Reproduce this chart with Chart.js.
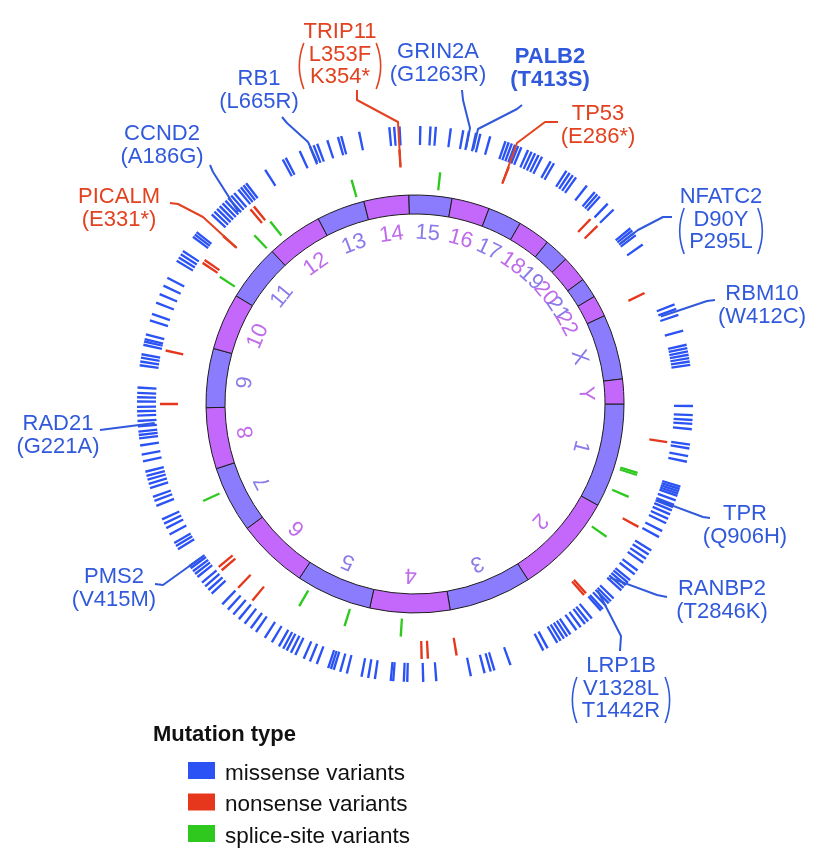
<!DOCTYPE html>
<html>
<head>
<meta charset="utf-8">
<script src="https://cdn.jsdelivr.net/npm/chart.js@4.4.1/dist/chart.umd.min.js"></script>
<style>
	html, body { margin: 0; padding: 0; background: #fff; }
	#wrap { width: 822px; height: 864px; }
</style>
</head>
<body>
<div id="wrap"><canvas id="circos" width="822" height="864"></canvas></div>
<script>
// chromosome sizes in Mb (hg19), drawn clockwise from 3 o'clock
const chromosomes = ["1", "2", "3", "4", "5", "6", "7", "8", "9", "10", "11", "12", "13", "14", "15", "16", "17", "18", "19", "20", "21", "22", "X", "Y"];
const chromSizes = [249.25, 243.2, 198.0, 191.2, 180.9, 171.1, 159.1, 146.4, 141.2, 135.5, 135.0, 133.9, 115.2, 107.3, 102.5, 90.4, 81.2, 78.1, 59.1, 63.0, 48.1, 51.3, 155.3, 59.4];

// mutation positions: genome scaled to 360 degrees, clockwise from the start of chr1
const missenseDeg = [
	0.4, 2.3, 3.3, 4.1, 5.2, 8.4, 9.2, 10.8, 12.0, 17.3, 17.8, 18.3, 18.8, 19.3, 20.3, 21.3, 21.8, 22.5, 23.4, 24.4,
	25.4, 27.2, 28.6, 31.8, 32.8, 33.8, 34.8, 36.8, 37.8, 39.3, 40.0, 40.7, 41.4, 42.1, 44.4, 45.2, 45.8, 46.6, 47.5, 48.0,
	50.5, 51.5, 52.3, 53.4, 54.5, 56.0, 56.8, 57.6, 58.4, 59.2, 61.5, 62.5, 69.9, 73.4, 74.2, 75.5, 78.4, 85.6, 88.3, 91.6,
	92.3, 94.5, 95.0, 98.3, 99.7, 101.1, 104.2, 105.6, 107.0, 107.6, 108.2, 110.7, 112.2, 113.6, 115.5, 116.5, 117.5, 118.3, 119.3, 121.0,
	122.7, 124.9, 126.2, 127.8, 129.3, 130.8, 132.3, 133.9, 137.0, 138.0, 139.0, 140.0, 141.5, 142.3, 143.0, 143.8, 144.3, 148.5, 149.3, 150.0,
	152.0, 153.5, 154.5, 155.5, 158.5, 159.6, 160.5, 162.4, 163.3, 164.2, 165.0, 165.9, 168.1, 169.5, 171.4, 172.9, 173.6, 174.3, 175.4, 176.5,
	177.6, 178.5, 179.4, 180.5, 181.4, 182.3, 183.4, 188.0, 188.8, 189.6, 190.3, 192.3, 193.0, 193.5, 194.5, 197.5, 198.9, 201.4, 203.3, 205.2,
	207.0, 211.0, 211.8, 212.6, 213.4, 217.0, 217.6, 218.2, 223.0, 223.8, 224.6, 225.4, 226.2, 227.0, 227.8, 228.6, 229.4, 230.5, 231.2, 231.9,
	232.6, 237.4, 241.6, 242.3, 245.5, 247.8, 248.6, 249.4, 251.6, 253.9, 254.6, 258.4, 264.7, 265.7, 266.8, 271.1, 273.2, 274.3, 277.4, 280.0,
	281.2, 282.7, 283.6, 285.7, 289.0, 289.7, 290.4, 291.1, 291.8, 292.5, 294.0, 294.8, 295.6, 296.4, 297.2, 299.2, 300.0, 303.0, 303.8, 304.6,
	305.4, 308.2, 310.3, 311.0, 311.7, 313.9, 315.6, 320.8, 321.4, 322.0, 322.6, 325.0, 339.0, 340.0, 341.3, 344.7, 347.7, 348.4, 349.1, 349.8,
	350.5, 351.2, 351.9,
];
const nonsenseDeg = [8.6, 28.8, 47.9, 48.5, 80.6, 87.1, 88.5, 129.6, 133.9, 139.3, 140.3, 180.0, 192.1, 213.6, 214.4, 221.2, 229.8, 230.8, 266.5, 291.6, 313.5, 315.7, 334.2];
const spliceDeg = [17.2, 17.7, 23.5, 34.7, 93.5, 107.6, 119.8, 155.4, 213.1, 226.4, 231.6, 254.2, 276.2];

// annotated genes
const genes = ["TPR", "RANBP2", "LRP1B", "PMS2", "RAD21", "PICALM", "CCND2", "RB1", "TRIP11", "GRIN2A", "PALB2", "TP53", "NFATC2", "RBM10"];
const geneDeg = [21.6, 41.7, 45.6, 144.3, 175.8, 221.2, 227.4, 248.0, 266.5, 281.3, 282.9, 291.6, 322.0, 340.4];
const geneType = ["missense", "missense", "missense", "missense", "missense", "nonsense", "missense", "missense", "nonsense", "missense", "missense", "nonsense", "missense", "missense"];
const geneVariants = [["Q906H"], ["T2846K"], ["V1328L", "T1442R"], ["V415M"], ["G221A"], ["E331*"], ["A186G"], ["L665R"], ["L353F", "K354*"], ["G1263R"], ["T413S"], ["E286*"], ["D90Y", "P295L"], ["W412C"]];
const highlighted = ["PALB2"];

const legendTitle = "Mutation type";
const legendItems = ["missense variants", "nonsense variants", "splice-site variants"];

// ---- styles / layout ----
const BLUE = "#2b52f4";
const RED = "#e6361b";
const GREEN = "#2fc81f";
const LABEL_BLUE = "#3159dc";
const LABEL_RED = "#e2421f";
const CHR_FILL = ["#8b7cfd", "#c467fb"];
const CHR_TEXT = ["#8a7bea", "#bf6bea"];
const GAP = "rgba(0,0,0,0)";
const FONT = '"Liberation Sans", Arial, sans-serif';

const geneLayout = {
	TPR: { x: 745, y: 520, path: [[710, 518], [703, 517]] },
	RANBP2: { x: 722, y: 595, path: [[667, 597], [657, 595]] },
	LRP1B: { x: 621, y: 672, path: [[620, 651], [621, 636]] },
	PMS2: { x: 114, y: 583, path: [[155, 584], [163, 585]] },
	RAD21: { x: 58, y: 430, path: [[100, 430]] },
	PICALM: { x: 119, y: 203, path: [[170, 203], [178, 204], [203, 217]] },
	CCND2: { x: 162, y: 140, path: [[210, 165], [213, 172]] },
	RB1: { x: 259, y: 85, path: [[282, 117], [287, 123], [308, 142]] },
	TRIP11: { x: 340, y: 38, path: [[357, 90], [357, 100], [398, 122]] },
	GRIN2A: { x: 438, y: 58, path: [[462, 90], [463, 100], [470, 128]] },
	PALB2: { x: 550, y: 63, path: [[522, 105], [517, 109], [478, 129]] },
	TP53: { x: 598, y: 120, path: [[558, 122], [545, 122], [517, 143]] },
	NFATC2: { x: 721, y: 203, path: [[672, 217], [663, 217], [638, 230]] },
	RBM10: { x: 762, y: 300, path: [[715, 300], [707, 301]] },
};

function buildTrack(positions, width, color) {
	const sorted = positions.slice().sort((a, b) => a - b);
	const data = [];
	const colors = [];
	let cur = 0;
	sorted.forEach((p) => {
		const s = Math.max(p - width / 2, cur);
		const e = Math.min(p + width / 2, 360);
		if (e <= s) return;
		if (s > cur) {
			data.push(s - cur);
			colors.push(GAP);
		}
		data.push(e - s);
		colors.push(color);
		cur = e;
	});
	if (cur < 360) {
		data.push(360 - cur);
		colors.push(GAP);
	}
	return { data, backgroundColor: colors };
}

const spacer = (w) => ({ data: [1], backgroundColor: [GAP], borderWidth: 0, weight: w });

const overlay = {
	id: "overlay",
	afterDatasetsDraw(chart) {
		const ctx = chart.ctx;
		const ring = chart.getDatasetMeta(6).data;
		const cx = ring[0].x;
		const cy = ring[0].y;
		ctx.save();

		// chromosome names inside the ring
		ctx.font = "22px " + FONT;
		ctx.textAlign = "center";
		ctx.textBaseline = "middle";
		ring.forEach((arc, i) => {
			const a = (arc.startAngle + arc.endAngle) / 2;
			ctx.save();
			ctx.translate(cx + 171 * Math.cos(a), cy + 171 * Math.sin(a));
			ctx.rotate(a + Math.PI / 2);
			ctx.fillStyle = CHR_TEXT[i % 2];
			ctx.fillText(chromosomes[i], 0, 0);
			ctx.restore();
		});

		// gene labels with leader lines
		genes.forEach((g, i) => {
			const lay = geneLayout[g];
			const red = geneType[i] === "nonsense";
			const color = red ? LABEL_RED : LABEL_BLUE;
			const a = (geneDeg[i] * Math.PI) / 180;
			const rEnd = red ? 238 : 261;
			ctx.strokeStyle = color;
			ctx.lineWidth = 2;
			ctx.lineJoin = "round";
			ctx.beginPath();
			lay.path.forEach(([x, y], k) => (k ? ctx.lineTo(x, y) : ctx.moveTo(x, y)));
			ctx.lineTo(cx + rEnd * Math.cos(a), cy + rEnd * Math.sin(a));
			ctx.stroke();

			ctx.fillStyle = color;
			ctx.textAlign = "center";
			ctx.textBaseline = "alphabetic";
			ctx.font = (highlighted.includes(g) ? "bold " : "") + "22px " + FONT;
			ctx.fillText(g, lay.x, lay.y);
			const vars = geneVariants[i];
			if (vars.length === 1) {
				ctx.fillText("(" + vars[0] + ")", lay.x, lay.y + 22.5);
			} else {
				let w = 0;
				vars.forEach((v, k) => {
					ctx.fillText(v, lay.x, lay.y + 22.5 * (k + 1));
					w = Math.max(w, ctx.measureText(v).width);
				});
				const top = lay.y + 5;
				const bot = lay.y + 22.5 * vars.length + 6;
				const xl = lay.x - w / 2 - 5;
				const xr = lay.x + w / 2 + 5;
				ctx.lineWidth = 1.6;
				ctx.beginPath();
				ctx.moveTo(xl, top);
				ctx.quadraticCurveTo(xl - 9, (top + bot) / 2, xl, bot);
				ctx.moveTo(xr, top);
				ctx.quadraticCurveTo(xr + 9, (top + bot) / 2, xr, bot);
				ctx.stroke();
			}
		});

		// legend
		ctx.textAlign = "left";
		ctx.fillStyle = "#111";
		ctx.font = "bold 22px " + FONT;
		ctx.fillText(legendTitle, 153, 741);
		const swatches = [BLUE, RED, GREEN];
		ctx.font = "22.5px " + FONT;
		legendItems.forEach((t, k) => {
			const top = 762 + 31.5 * k;
			ctx.fillStyle = swatches[k];
			ctx.fillRect(188, top, 27, 17);
			ctx.fillStyle = "#111";
			ctx.fillText(t, 225, top + 17.5);
		});
		ctx.restore();
	},
};

new Chart(document.getElementById("circos"), {
	type: "doughnut",
	data: {
		labels: chromosomes,
		datasets: [
			{ ...buildTrack(missenseDeg, 0.5, BLUE), borderWidth: 0, weight: 19 },
			spacer(4),
			{ ...buildTrack(nonsenseDeg, 0.55, RED), borderWidth: 0, weight: 18 },
			spacer(4),
			{ ...buildTrack(spliceDeg, 0.6, GREEN), borderWidth: 0, weight: 18 },
			spacer(6),
			{
				data: chromSizes,
				backgroundColor: chromSizes.map((_, i) => CHR_FILL[i % 2]),
				borderColor: "#1c1c1c",
				borderWidth: 1,
				weight: 19,
			},
		],
	},
	options: {
		responsive: false,
		animation: false,
		events: [],
		rotation: 90,
		radius: 278,
		cutout: (190 / 278) * 100 + "%",
		layout: { padding: { left: 8, right: 0, top: 0, bottom: 56 } },
		plugins: {
			legend: { display: false },
			tooltip: { enabled: false },
		},
	},
	plugins: [overlay],
});
</script>
</body>
</html>
